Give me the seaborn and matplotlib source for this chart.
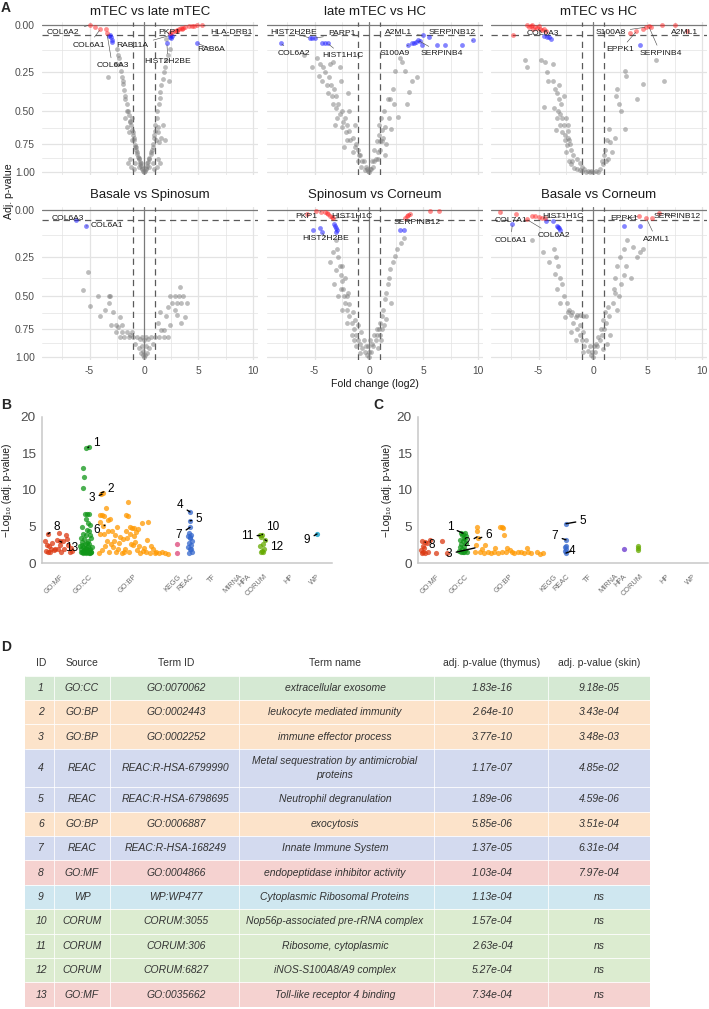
import numpy as np
import pandas as pd
import matplotlib
matplotlib.use("Agg")
import matplotlib.pyplot as plt
from matplotlib.patches import Rectangle
import seaborn as sns

# ------------------------------------------------------------------
# A. volcano panels: (log2 fold change, adj. p-value)
# ------------------------------------------------------------------
titles = ["mTEC vs late mTEC", "late mTEC vs HC", "mTEC vs HC",
          "Basale vs Spinosum", "Spinosum vs Corneum", "Basale vs Corneum"]

grey_1 = [(-3.3, 0.28), (-2.5, 0.12), (-2.4, 0.15), (-2.3, 0.17), (-2.2, 0.2), (-2.1, 0.24),
          (-2.0, 0.28), (-1.95, 0.3), (-1.9, 0.32), (-1.8, 0.36), (-1.75, 0.4), (-1.7, 0.42),
          (-1.6, 0.45), (-1.55, 0.5), (-1.45, 0.5), (-1.4, 0.53), (-1.3, 0.57), (-1.25, 0.58),
          (-1.2, 0.6), (-1.1, 0.64), (-1.05, 0.66), (-1.0, 0.68), (-0.95, 0.7), (-0.9, 0.72),
          (-0.8, 0.76), (-0.75, 0.78), (-0.7, 0.8), (-0.6, 0.84), (-0.55, 0.86), (-0.5, 0.88),
          (-0.4, 0.91), (-0.35, 0.93), (-0.3, 0.94), (-0.2, 0.97), (-0.1, 0.99), (0.0, 1.0),
          (-1.5, 0.92), (-1.2, 0.95), (-0.9, 0.97), (-1.3, 0.88), (0.9, 0.97), (1.2, 0.95),
          (1.5, 0.92), (1.3, 0.88), (2.4, 0.12), (2.2, 0.15), (2.0, 0.18), (1.9, 0.22),
          (1.8, 0.25), (1.7, 0.29), (1.6, 0.33), (1.5, 0.37), (1.5, 0.41), (1.35, 0.45),
          (1.2, 0.5), (1.15, 0.55), (1.05, 0.6), (1.0, 0.65), (0.9, 0.7), (0.8, 0.75),
          (0.7, 0.8), (0.6, 0.84), (0.5, 0.88), (0.4, 0.91), (0.3, 0.94), (0.2, 0.97),
          (0.1, 0.99), (1.6, 0.7), (1.4, 0.74), (1.9, 0.72), (2.0, 0.07), (1.3, 0.62),
          (0.95, 0.68), (-0.15, 0.96), (0.15, 0.96), (-0.25, 0.92), (0.25, 0.92), (-0.45, 0.87),
          (0.45, 0.87), (-0.65, 0.82), (0.65, 0.82), (-0.85, 0.78), (0.85, 0.78), (-1.1, 0.72),
          (1.1, 0.72), (-1.4, 0.66), (1.3, 0.66), (-0.5, 0.95), (0.5, 0.95), (-0.8, 0.92),
          (0.8, 0.92), (-1.6, 0.62), (-1.7, 0.55), (1.7, 0.6), (2.3, 0.3), (-2.6, 0.2),
          (-1.1, 0.55)]
red_1 = [(-5.0, 0.0), (-4.5, 0.01), (-4.0, 0.02), (-3.5, 0.02), (-3.4, 0.04), (2.4, 0.04),
         (2.6, 0.035), (2.8, 0.03), (3.0, 0.025), (3.2, 0.02), (3.4, 0.015), (3.6, 0.012),
         (3.8, 0.01), (4.1, 0.007), (4.4, 0.005), (4.6, 0.003), (4.9, 0.0), (5.3, 0.0),
         (3.5, 0.02), (3.0, 0.03)]
blue_1 = [(-3.1, 0.05), (-3.0, 0.06), (-2.9, 0.073), (-2.9, 0.085), (-3.2, 0.055), (2.4, 0.05),
          (2.35, 0.06), (2.5, 0.065), (2.1, 0.09), (4.9, 0.09), (2.6, 0.055)]
genes_1 = [("COL6A2", -5.0, 0.0), ("COL6A1", -4.0, 0.02), ("COL6A3", -3.4, 0.04),
           ("RAB11A", 2.4, 0.05), ("PKP1", 2.6, 0.035), ("HLA-DRB1", 5.3, 0.0),
           ("RAB6A", 4.9, 0.09), ("HIST2H2BE", 2.1, 0.09)]

grey_2 = [(-6.0, 0.15), (-5.2, 0.22), (-4.8, 0.17), (-4.5, 0.2), (-4.2, 0.22), (-4.0, 0.25),
          (-4.3, 0.3), (-3.7, 0.28), (-3.5, 0.33), (-3.8, 0.38), (-3.2, 0.35), (-3.0, 0.4),
          (-3.3, 0.45), (-2.8, 0.45), (-2.5, 0.5), (-2.9, 0.55), (-2.2, 0.55), (-2.0, 0.6),
          (-2.5, 0.62), (-1.8, 0.65), (-1.5, 0.7), (-2.0, 0.72), (-1.2, 0.75), (-1.0, 0.8),
          (-1.5, 0.82), (-0.8, 0.85), (-0.5, 0.9), (-1.0, 0.9), (-0.3, 0.95), (-0.7, 0.95),
          (-0.1, 0.99), (-0.4, 0.98), (-3.6, 0.2), (-4.6, 0.27), (-2.6, 0.3), (-3.1, 0.6),
          (-1.8, 0.5), (-2.3, 0.78), (-1.3, 0.6), (-3.3, 0.19), (-2.7, 0.22), (-1.9, 0.38),
          (2.8, 0.17), (2.4, 0.24), (3.3, 0.24), (3.9, 0.3), (3.7, 0.37), (1.7, 0.42),
          (1.9, 0.42), (1.4, 0.5), (2.7, 0.54), (1.2, 0.64), (2.0, 0.63), (0.7, 0.73),
          (1.0, 0.73), (1.2, 0.73), (0.5, 0.8), (0.8, 0.82), (0.3, 0.9), (0.6, 0.88),
          (0.1, 0.97), (0.4, 0.95), (1.5, 0.85), (2.2, 0.35), (3.0, 0.19), (1.1, 0.55),
          (4.4, 0.28), (3.5, 0.45), (0.9, 0.6), (1.6, 0.75), (0.0, 1.0), (-0.2, 0.97),
          (0.2, 0.97), (-0.6, 0.9), (0.5, 0.9), (-0.9, 0.85), (0.8, 0.88), (-1.3, 0.78),
          (1.0, 0.8), (-1.7, 0.72), (1.3, 0.7), (-2.1, 0.66), (1.5, 0.62), (-2.4, 0.58),
          (-2.7, 0.52), (-3.0, 0.48), (-3.4, 0.4), (-3.9, 0.33), (0.9, 0.68), (1.8, 0.55),
          (2.3, 0.45)]
red_2 = []
blue_2 = [(-8.1, 0.09), (-5.4, 0.064), (-5.2, 0.064), (-5.0, 0.064), (-4.3, 0.09), (-4.0, 0.09),
          (-3.8, 0.09), (3.6, 0.1), (3.9, 0.09), (4.1, 0.09), (4.3, 0.085), (4.5, 0.075),
          (4.7, 0.08), (4.9, 0.1), (5.0, 0.05), (5.5, 0.06), (6.2, 0.1), (7.0, 0.1),
          (8.5, 0.1), (9.5, 0.075)]
genes_2 = [("HIST2H2BE", -5.4, 0.064), ("PARP1", -5.0, 0.064), ("COL6A2", -8.1, 0.09),
           ("HIST1H1C", -3.8, 0.09), ("A2ML1", 5.0, 0.05), ("SERPINB12", 9.5, 0.075),
           ("S100A9", 3.6, 0.1), ("SERPINB4", 4.5, 0.075)]

grey_3 = [(-6.2, 0.18), (-6.1, 0.22), (-4.8, 0.18), (-4.4, 0.19), (-3.7, 0.2), (-4.2, 0.25),
          (-4.1, 0.3), (-3.7, 0.3), (-3.5, 0.35), (-3.3, 0.38), (-3.1, 0.42), (-2.9, 0.45),
          (-4.5, 0.47), (-3.6, 0.48), (-3.2, 0.5), (-3.0, 0.52), (-2.8, 0.55), (-2.7, 0.6),
          (-3.4, 0.64), (-2.3, 0.6), (-2.3, 0.65), (-2.3, 0.7), (-2.1, 0.75), (-2.0, 0.8),
          (-1.8, 0.85), (-1.5, 0.88), (-1.2, 0.92), (-1.0, 0.95), (-0.8, 0.97), (-0.5, 0.99),
          (-0.3, 1.0), (0.0, 1.0), (-1.5, 0.97), (-2.0, 0.93), (-1.0, 0.99), (0.3, 0.99),
          (0.6, 0.97), (0.9, 0.93), (-2.6, 0.68), (-2.2, 0.72), (-2.5, 0.82), (-1.9, 0.9),
          (-3.1, 0.33), (-2.7, 0.4), (5.8, 0.18), (2.9, 0.24), (3.0, 0.27), (4.6, 0.32),
          (2.1, 0.4), (2.4, 0.45), (2.6, 0.5), (4.0, 0.42), (1.5, 0.63), (2.9, 0.63),
          (1.3, 0.72), (1.6, 0.74), (1.1, 0.8), (1.0, 0.85), (0.8, 0.9), (1.4, 0.88),
          (2.2, 0.35), (6.5, 0.3), (-0.6, 1.0), (-1.2, 0.98), (-1.7, 0.96), (-2.2, 0.9),
          (0.5, 1.0), (-0.2, 0.99), (-2.4, 0.76), (-2.6, 0.72), (-2.8, 0.66), (-3.0, 0.6),
          (-2.5, 0.55), (-3.3, 0.55), (1.2, 0.9), (1.7, 0.82), (2.0, 0.7)]
red_3 = [(-6.1, 0.0), (-5.9, 0.01), (-5.7, 0.005), (-5.5, 0.02), (-5.3, 0.01), (-5.1, 0.015),
         (-4.9, 0.02), (-4.7, 0.025), (-4.5, 0.02), (-4.3, 0.03), (-5.6, 0.0), (-5.0, 0.005),
         (-7.3, 0.05), (3.4, 0.04), (3.9, 0.03), (4.6, 0.02), (4.9, 0.01), (5.1, 0.005),
         (5.3, 0.008), (6.3, 0.0), (7.5, 0.0), (8.6, 0.03)]
blue_3 = [(-4.5, 0.055), (-4.2, 0.06), (-3.9, 0.07), (-4.0, 0.058), (4.3, 0.1)]
genes_3 = [("COL6A3", -5.1, 0.015), ("S100A8", 4.9, 0.01), ("EPPK1", 4.0, 0.03),
           ("SERPINB4", 5.1, 0.005), ("A2ML1", 8.6, 0.03)]

grey_4 = [(-5.1, 0.34), (-5.6, 0.46), (-4.2, 0.5), (-3.2, 0.5), (-3.1, 0.5), (-3.2, 0.55),
          (-5.0, 0.57), (-4.0, 0.65), (-3.0, 0.72), (-2.6, 0.72), (-2.0, 0.72), (-2.6, 0.78),
          (-2.0, 0.78), (-1.1, 0.78), (-1.3, 0.8), (-2.2, 0.82), (-1.8, 0.82), (-1.4, 0.82),
          (-1.0, 0.82), (-0.6, 0.82), (-0.2, 0.82), (0.2, 0.82), (0.6, 0.82), (1.0, 0.82),
          (1.4, 0.82), (1.8, 0.82), (2.2, 0.82), (-0.8, 0.88), (-0.5, 0.92), (-0.3, 0.96),
          (0.0, 1.0), (0.3, 0.96), (0.5, 0.92), (0.8, 0.88), (-3.6, 0.6), (-2.8, 0.62),
          (-2.2, 0.66), (3.3, 0.44), (2.4, 0.5), (2.8, 0.5), (3.2, 0.5), (3.6, 0.5),
          (2.6, 0.55), (3.0, 0.55), (3.4, 0.55), (3.9, 0.55), (2.2, 0.58), (1.5, 0.62),
          (2.0, 0.65), (3.0, 0.64), (3.8, 0.66), (1.3, 0.7), (2.4, 0.72), (1.8, 0.76),
          (3.4, 0.7), (2.8, 0.6), (-0.1, 0.98), (0.1, 0.98), (-0.4, 0.84), (0.4, 0.84),
          (-0.2, 0.9), (0.2, 0.9), (-0.1, 0.94), (0.0, 0.85), (-1.6, 0.78), (1.6, 0.76),
          (-2.4, 0.74)]
red_4 = []
blue_4 = [(-6.2, 0.05), (-5.3, 0.078)]
genes_4 = [("COL6A3", -6.2, 0.05), ("COL6A1", -5.3, 0.078)]

grey_5 = [(-3.0, 0.15), (-2.9, 0.2), (-3.3, 0.22), (-2.8, 0.25), (-2.7, 0.3), (-3.0, 0.33),
          (-2.6, 0.36), (-2.5, 0.4), (-3.2, 0.42), (-2.4, 0.45), (-2.3, 0.5), (-2.8, 0.5),
          (-2.2, 0.55), (-2.0, 0.6), (-2.5, 0.6), (-1.8, 0.65), (-1.6, 0.7), (-2.0, 0.7),
          (-1.4, 0.75), (-1.2, 0.8), (-1.6, 0.8), (-1.0, 0.85), (-0.8, 0.88), (-1.2, 0.9),
          (-0.6, 0.92), (-0.4, 0.95), (-0.2, 0.98), (0.0, 1.0), (-0.8, 0.96), (-3.6, 0.28),
          (-2.2, 0.38), (-1.9, 0.48), (3.2, 0.14), (2.9, 0.17), (2.6, 0.2), (2.4, 0.24),
          (2.2, 0.28), (1.9, 0.32), (1.8, 0.38), (1.7, 0.42), (1.6, 0.48), (1.5, 0.52),
          (1.3, 0.6), (1.2, 0.65), (1.0, 0.7), (0.9, 0.75), (0.7, 0.8), (0.6, 0.85),
          (0.4, 0.9), (0.2, 0.95), (1.4, 0.72), (1.6, 0.67), (0.8, 0.92), (1.1, 0.85),
          (2.0, 0.55), (-0.3, 0.9), (0.3, 0.88), (-0.5, 0.85), (0.5, 0.8), (-0.7, 0.78),
          (0.7, 0.75), (-1.0, 0.72), (1.0, 0.8), (-1.3, 0.68), (-1.5, 0.62), (-1.8, 0.56),
          (-2.0, 0.5), (-2.6, 0.45), (-2.5, 0.3), (0.0, 0.95), (-0.1, 0.9), (0.1, 0.85),
          (-1.4, 0.85), (1.2, 0.75)]
red_5 = [(-5.7, 0.02), (-4.9, 0.005), (-4.0, 0.01), (-3.8, 0.02), (-3.6, 0.03), (-3.4, 0.035),
         (-3.3, 0.04), (-4.4, 0.008), (-3.9, 0.015), (3.3, 0.04), (3.5, 0.03), (3.6, 0.025),
         (3.8, 0.02), (5.6, 0.005), (6.4, 0.005)]
blue_5 = [(-5.1, 0.1), (-4.3, 0.11), (-4.5, 0.09), (-3.2, 0.07), (-3.1, 0.08), (-3.0, 0.09),
          (-2.9, 0.1), (-3.0, 0.11), (2.8, 0.1), (3.2, 0.1)]
genes_5 = [("PKP1", -4.4, 0.008), ("HIST1H1C", -3.3, 0.04), ("HIST2H2BE", -4.3, 0.11),
           ("SERPINB12", 3.8, 0.02)]

grey_6 = [(-5.6, 0.15), (-4.6, 0.22), (-3.6, 0.2), (-3.4, 0.25), (-3.2, 0.3), (-3.5, 0.35),
          (-3.0, 0.38), (-2.8, 0.42), (-3.3, 0.45), (-2.7, 0.5), (-3.0, 0.55), (-2.4, 0.55),
          (-2.2, 0.6), (-1.9, 0.62), (-1.5, 0.64), (-1.2, 0.64), (-0.9, 0.65), (-1.8, 0.7),
          (-1.5, 0.75), (-1.2, 0.8), (-1.0, 0.85), (-0.8, 0.9), (-0.5, 0.94), (-0.2, 0.98),
          (0.0, 1.0), (-1.6, 0.85), (-0.9, 0.95), (-4.0, 0.28), (-2.6, 0.66), (-2.0, 0.78),
          (4.6, 0.2), (4.3, 0.22), (3.7, 0.19), (3.1, 0.15), (2.8, 0.2), (2.5, 0.25),
          (2.2, 0.3), (3.0, 0.3), (2.8, 0.36), (2.0, 0.38), (2.6, 0.42), (1.9, 0.45),
          (2.4, 0.5), (1.8, 0.55), (2.2, 0.6), (1.5, 0.65), (1.2, 0.7), (1.0, 0.75),
          (0.8, 0.8), (0.6, 0.85), (0.4, 0.9), (0.2, 0.95), (1.6, 0.8), (1.3, 0.88),
          (0.9, 0.93), (3.5, 0.38), (4.0, 0.25), (-0.3, 0.9), (0.3, 0.88), (-0.6, 0.85),
          (0.5, 0.82), (-0.9, 0.78), (0.7, 0.75), (-1.2, 0.72), (-1.6, 0.66), (-2.0, 0.64),
          (-2.3, 0.62), (-0.6, 0.65), (0.9, 0.68), (1.1, 0.62), (1.4, 0.58), (2.0, 0.48),
          (-0.1, 0.95), (0.1, 0.9)]
red_6 = [(-8.5, 0.01), (-7.1, 0.02), (-6.1, 0.045), (-5.3, 0.03), (-5.0, 0.035), (-4.7, 0.04),
         (-5.6, 0.03), (-4.4, 0.04), (4.2, 0.03), (4.9, 0.04), (5.4, 0.04), (6.1, 0.015)]
blue_6 = [(-7.4, 0.07), (-4.3, 0.052), (-3.7, 0.055), (-3.3, 0.08), (-3.1, 0.09), (-3.0, 0.1),
          (-3.2, 0.085), (2.8, 0.08), (4.3, 0.08)]
genes_6 = [("COL7A1", -8.5, 0.01), ("COL6A1", -7.4, 0.07), ("COL6A2", -6.1, 0.045),
           ("HIST1H1C", -4.7, 0.04), ("EPPK1", 4.2, 0.03), ("SERPINB12", 6.1, 0.015),
           ("A2ML1", 4.9, 0.04)]

# where the gene names sit (layout)
label_pos = [
    [(-7.4, 0.038), (-5.1, 0.099), (-2.9, 0.213), (-1.05, 0.104), (2.3, 0.038), (8.0, 0.038),
     (6.2, 0.12), (2.2, 0.19)],
    [(-6.9, 0.038), (-2.5, 0.043), (-6.9, 0.143), (-2.4, 0.157), (2.75, 0.038), (7.6, 0.038),
     (2.4, 0.143), (6.7, 0.146)],
    [(-4.6, 0.043), (1.6, 0.035), (2.5, 0.125), (6.2, 0.143), (8.4, 0.035)],
    [(-7.0, 0.043), (-3.4, 0.078)],
    [(-5.8, 0.032), (-1.55, 0.032), (-4.0, 0.143), (4.45, 0.062)],
    [(-7.55, 0.052), (-7.55, 0.152), (-3.6, 0.129), (-2.75, 0.032), (2.85, 0.043),
     (7.7, 0.032), (5.8, 0.148)],
]

# ------------------------------------------------------------------
# B / C. g:Profiler manhattan plots (thymus / skin)
# ------------------------------------------------------------------
sources = ["GO:MF", "GO:CC", "GO:BP", "KEGG", "REAC", "TF", "MIRNA", "HPA", "CORUM", "HP", "WP"]
source_pos = [18, 47, 92, 136, 148, 171, 197, 205, 222, 248, 275]
source_colors = {"GO:MF": "#dc3912", "GO:CC": "#109618", "GO:BP": "#ff9900", "KEGG": "#dd4477",
                 "REAC": "#3366cc", "TF": "#5574a6", "MIRNA": "#22aa99", "HPA": "#6633cc",
                 "CORUM": "#66aa00", "HP": "#990099", "WP": "#0099c6"}

b_mf_x = [3, 5, 4, 8, 7, 10, 12, 13, 15, 16, 18, 19, 21, 22, 24, 25, 26, 28, 29, 30, 6, 17, 9, 18, 6]
b_mf_y = [3.0, 2.5, 1.7, 1.6, 2.3, 2.8, 1.8, 2.0, 3.2, 1.9, 2.5, 1.6, 3.0, 2.0, 3.9, 3.3, 2.5,
          1.6, 2.1, 1.7, 1.6, 4.1, 2.0, 3.0, 4.0]
b_cc_x = [44, 47, 41, 42, 41, 43, 45, 47, 44, 46, 48, 40, 45, 47, 41, 44, 48, 39, 42, 46,
          49, 40, 43, 45, 47, 50, 38, 41, 44, 46, 48, 39, 42, 44, 47, 49, 40, 43, 45, 48,
          41, 44, 46, 39, 42, 47, 49, 43, 45, 40]
b_cc_y = [15.7, 15.8, 13.0, 11.7, 10.2, 6.7, 6.7, 6.7, 6.0, 5.5, 5.2, 4.9, 4.6, 4.4, 4.0, 3.8,
          3.9, 3.5, 3.3, 3.1, 3.4, 2.9, 2.7, 2.8, 2.6, 2.2, 2.4, 2.2, 2.1, 2.3, 2.0, 1.9, 1.8,
          1.7, 1.8, 1.6, 1.6, 1.5, 1.5, 1.4, 1.4, 1.4, 1.5, 1.5, 1.6, 1.4, 1.5, 2.0, 1.9, 2.5]
b_bp_x = [59, 61, 86, 64, 58, 60, 62, 84, 86, 68, 66, 100, 58, 61, 75, 88, 90, 92, 96, 66,
          70, 84, 94, 73, 58, 62, 78, 88, 92, 105, 106, 81, 57, 60, 63, 67, 71, 74, 77, 80,
          83, 87, 91, 95, 98, 102, 104, 108, 111, 114, 117, 120, 123, 126, 65, 69, 76, 82, 89, 97,
          101, 109, 113, 85, 93, 72]
b_bp_y = [9.5, 9.6, 8.4, 7.5, 6.6, 6.6, 6.5, 6.6, 6.5, 6.0, 5.9, 5.5, 5.6, 5.1, 5.0, 4.9, 4.8,
          4.8, 4.7, 4.4, 4.4, 4.4, 4.3, 3.9, 4.0, 4.0, 3.6, 4.0, 3.7, 3.2, 5.6, 3.3, 1.4, 1.8,
          2.4, 1.5, 2.2, 1.6, 2.8, 1.4, 2.0, 1.5, 2.5, 1.8, 1.4, 2.1, 1.6, 1.4, 1.9, 1.5, 1.4,
          1.6, 1.4, 1.3, 3.0, 2.6, 1.9, 1.5, 2.7, 2.3, 1.7, 2.4, 1.4, 3.4, 2.9, 3.1]
b_kegg_x = [135, 135]
b_kegg_y = [2.6, 1.4]
b_reac_x = [148, 148, 148, 147, 149, 146, 148, 150, 147, 149, 146, 148, 150, 147, 149, 148]
b_reac_y = [7.0, 5.8, 4.9, 4.2, 3.9, 3.7, 3.4, 3.1, 2.8, 2.5, 2.2, 1.9, 1.6, 1.4, 2.0, 3.6]
b_corum_x = [218, 220, 223, 219, 221, 218, 222, 220, 219, 221]
b_corum_y = [3.8, 3.9, 3.2, 3.6, 2.6, 2.3, 1.9, 1.7, 1.5, 1.6]
b_wp_x = [275]
b_wp_y = [4.0]

c_mf_x = [4, 5, 5, 7, 9, 10, 4, 24, 12, 18, 7, 3, 6, 29]
c_mf_y = [3.0, 2.3, 1.6, 1.4, 2.8, 1.6, 1.4, 3.0, 3.2, 1.4, 2.9, 1.8, 2.1, 1.4]
c_cc_x = [43, 45, 47, 44, 46, 48, 42, 45, 47, 43, 46, 48, 44, 41, 45, 47, 43, 49, 42, 46]
c_cc_y = [4.2, 4.0, 4.1, 3.8, 3.5, 3.7, 3.2, 3.0, 3.3, 2.7, 2.4, 2.8, 2.0, 1.7, 1.5, 1.8, 1.5,
          1.6, 2.2, 1.6]
c_bp_x = [59, 59, 60, 58, 67, 82, 84, 85, 86, 77, 89, 109, 62, 66, 70, 73, 76, 80, 84, 88,
          92, 96, 100, 103, 106, 110, 113, 119, 122, 125, 64, 94, 57]
c_bp_y = [4.9, 4.4, 3.5, 2.5, 2.5, 4.9, 4.9, 4.8, 3.9, 2.1, 2.1, 2.1, 1.5, 1.4, 1.6, 1.4, 1.5,
          1.4, 1.6, 1.5, 1.8, 1.4, 1.6, 1.5, 1.4, 1.6, 1.4, 1.5, 1.3, 1.4, 1.9, 1.5, 1.6]
c_reac_x = [148, 148, 148, 147, 148, 147, 148]
c_reac_y = [5.4, 3.2, 2.4, 2.2, 2.0, 1.7, 1.4]
c_hpa_x = [206]
c_hpa_y = [1.9]
c_corum_x = [220, 220, 220]
c_corum_y = [2.4, 2.1, 1.8]

# highlighted terms: id, term point (x, y), label (x, y)
b_notes = [(1, 46, 15.8, 54, 16.4), (2, 59, 9.6, 69, 10.1), (3, 60, 9.4, 50, 8.9),
           (4, 148, 7.0, 138, 7.9), (5, 148, 5.8, 157, 6.0), (6, 63, 5.2, 55, 4.5),
           (7, 148, 4.9, 137, 3.9), (8, 6, 4.0, 15, 4.9), (9, 275, 4.0, 265, 3.2),
           (10, 220, 3.9, 231, 4.9), (11, 218, 3.8, 205, 3.7), (12, 223, 3.2, 235, 2.2),
           (13, 18, 3.0, 30, 2.1)]
c_notes = [(1, 45, 4.1, 32, 4.9), (2, 59, 3.6, 49, 2.8), (3, 57, 2.1, 31, 1.3),
           (4, 148, 1.4, 154, 1.7), (5, 148, 5.4, 165, 5.8), (6, 61, 3.4, 71, 3.9),
           (7, 148, 3.2, 137, 3.7), (8, 7, 2.9, 14, 2.5)]

# ------------------------------------------------------------------
# D. table
# ------------------------------------------------------------------
col_headers = ["ID", "Source", "Term ID", "Term name", "adj. p-value (thymus)", "adj. p-value (skin)"]
term_ids = ["1", "2", "3", "4", "5", "6", "7", "8", "9", "10", "11", "12", "13"]
term_sources = ["GO:CC", "GO:BP", "GO:BP", "REAC", "REAC", "GO:BP", "REAC", "GO:MF", "WP",
                "CORUM", "CORUM", "CORUM", "GO:MF"]
term_codes = ["GO:0070062", "GO:0002443", "GO:0002252", "REAC:R-HSA-6799990",
              "REAC:R-HSA-6798695", "GO:0006887", "REAC:R-HSA-168249", "GO:0004866",
              "WP:WP477", "CORUM:3055", "CORUM:306", "CORUM:6827", "GO:0035662"]
term_names = ["extracellular exosome", "leukocyte mediated immunity", "immune effector process",
              "Metal sequestration by antimicrobial\nproteins", "Neutrophil degranulation",
              "exocytosis", "Innate Immune System", "endopeptidase inhibitor activity",
              "Cytoplasmic Ribosomal Proteins", "Nop56p-associated pre-rRNA complex",
              "Ribosome, cytoplasmic", "iNOS-S100A8/A9 complex", "Toll-like receptor 4 binding"]
p_thymus = ["1.83e-16", "2.64e-10", "3.77e-10", "1.17e-07", "1.89e-06", "5.85e-06", "1.37e-05",
            "1.03e-04", "1.13e-04", "1.57e-04", "2.63e-04", "5.27e-04", "7.34e-04"]
p_skin = ["9.18e-05", "3.43e-04", "3.48e-03", "4.85e-02", "4.59e-06", "3.51e-04", "6.31e-04",
          "7.97e-04", "ns", "ns", "ns", "ns", "ns"]
row_colors = {"GO:CC": "#d5e9d3", "GO:BP": "#fce3ca", "REAC": "#d3daef", "GO:MF": "#f5d2d0",
              "WP": "#cfe7f0", "CORUM": "#dcecd0"}

# ------------------------------------------------------------------
sns.set_style("white")
plt.rcParams["font.family"] = ["Liberation Sans", "DejaVu Sans"]

W, H = 709, 1009
fig = plt.figure(figsize=(W / 100, H / 100), dpi=100)
fig.patch.set_facecolor("white")


def px_axes(left, top, right, bottom):
    return fig.add_axes([left / W, 1 - bottom / H, (right - left) / W, (bottom - top) / H])


def fwd(p):
    return np.log2(1 + np.asarray(p, dtype=float))


def inv(t):
    return np.power(2.0, np.asarray(t, dtype=float)) - 1


GRID = "#e3e3e3"
panels = [(grey_1, red_1, blue_1, genes_1), (grey_2, red_2, blue_2, genes_2),
          (grey_3, red_3, blue_3, genes_3), (grey_4, red_4, blue_4, genes_4),
          (grey_5, red_5, blue_5, genes_5), (grey_6, red_6, blue_6, genes_6)]
col_x = [(42, 258), (267, 483), (491, 707)]
row_y = [(22, 175), (207, 360)]

for k, (grey, red, blue, genes) in enumerate(panels):
    r, c = divmod(k, 3)
    ax = px_axes(col_x[c][0], row_y[r][0], col_x[c][1], row_y[r][1])
    ax.set_yscale("function", functions=(fwd, inv))
    for v in [-7.5, -2.5, 2.5, 7.5]:
        ax.axvline(v, color=GRID, lw=0.5, zorder=0)
    for v in [-5, 5, 10]:
        ax.axvline(v, color=GRID, lw=0.9, zorder=0)
    for v in [0.125, 0.375, 0.625, 0.875]:
        ax.axhline(v, color=GRID, lw=0.5, zorder=0)
    for v in [0.25, 0.5, 0.75, 1.0]:
        ax.axhline(v, color=GRID, lw=0.9, zorder=0)
    ax.axhline(0, color="#7a7a7a", lw=0.9, zorder=1)
    ax.axvline(0, color="#7a7a7a", lw=0.9, zorder=1)
    for v in [-1, 1]:
        ax.axvline(v, color="#5a5a5a", lw=0.9, ls=(0, (5, 3.5)), zorder=2)
    ax.axhline(0.05, color="#5a5a5a", lw=0.9, ls=(0, (5, 3.5)), zorder=2)

    for pts, colour, a in [(grey, "#7a7a7a", 0.5), (blue, "#2020ff", 0.55), (red, "#ff2020", 0.5)]:
        if not pts:
            continue
        d = pd.DataFrame(pts, columns=["fc", "p"])
        sns.scatterplot(data=d, x="fc", y="p", color=colour, alpha=a, s=12,
                        linewidth=0, ax=ax, zorder=3)

    for (name, gx, gy), (lx, ly) in zip(genes, label_pos[k]):
        ax.annotate(name, xy=(gx, gy), xytext=(lx, ly), fontsize=6.1, color="#1a1a1a",
                    ha="center", va="center", zorder=5,
                    arrowprops=dict(arrowstyle="-", color="#444444", lw=0.4,
                                    shrinkA=1, shrinkB=1))

    ax.set_xlim(-9.36, 10.46)
    ax.set_ylim(1.0284, -0.014)
    ax.set_xlabel("")
    ax.set_ylabel("")
    for s in ax.spines.values():
        s.set_visible(False)
    ax.set_xticks([-5, 0, 5, 10])
    ax.set_yticks([0, 0.25, 0.5, 0.75, 1.0])
    ax.set_yticks([], minor=True)
    ax.tick_params(length=0, labelsize=7.4, labelcolor="#4d4d4d")
    ax.tick_params(axis="y", pad=5)
    ax.tick_params(axis="x", pad=4)
    if r == 1:
        ax.set_xticklabels(["-5", "0", "5", "10"])
    else:
        ax.set_xticklabels([])
    if c == 0:
        ax.set_yticklabels(["0.00", "0.25", "0.50", "0.75", "1.00"])
    else:
        ax.set_yticklabels([])
    cx = (col_x[c][0] + col_x[c][1]) / 2
    fig.text(cx / W, 1 - (12 if r == 0 else 195) / H, titles[k], fontsize=9.5,
             color="#1a1a1a", ha="center", va="center")

fig.text(374.5 / W, 1 - 384 / H, "Fold change (log2)", fontsize=7.6, color="#1a1a1a",
         ha="center", va="center")
fig.text(9 / W, 1 - 191 / H, "Adj. p-value", fontsize=7.6, color="#1a1a1a",
         ha="center", va="center", rotation=90)


def manhattan(ax, groups, notes):
    for src, xs, ys in groups:
        sns.scatterplot(x=xs, y=ys, color=source_colors[src], alpha=0.75, s=14,
                        linewidth=0, ax=ax, zorder=3)
    for num, px_, py_, lx, ly in notes:
        ax.annotate(str(num), xy=(px_, py_), xytext=(lx, ly), fontsize=8.5, color="black",
                    ha="center", va="center", zorder=5,
                    arrowprops=dict(arrowstyle="-", color="black", lw=1.0,
                                    shrinkA=0.5, shrinkB=0))
    ax.set_xlim(0, 290)
    ax.set_ylim(-0.6, 21)
    ax.set_xlabel("")
    ax.set_ylabel("")
    ax.spines["top"].set_visible(False)
    ax.spines["right"].set_visible(False)
    ax.spines["left"].set_bounds(0, 20)
    ax.spines["bottom"].set_position(("data", 0))
    for s in ["left", "bottom"]:
        ax.spines[s].set_color("#c8c8c8")
        ax.spines[s].set_linewidth(1.1)
    ax.set_yticks([0, 5, 10, 15, 20])
    ax.tick_params(axis="y", length=3, width=0.8, color="#c8c8c8", pad=1.5,
                   labelsize=9.7, labelcolor="#4d4d4d")
    ax.set_xticks(source_pos)
    ax.set_xticklabels(sources, rotation=45, ha="right", va="top", rotation_mode="anchor",
                       fontsize=5.3, color="#6b6b6b")
    ax.tick_params(axis="x", length=0, pad=7)
    ax.set_facecolor("none")


axb = px_axes(42, 409.3, 332, 567.7)
manhattan(axb, [("GO:MF", b_mf_x, b_mf_y), ("GO:CC", b_cc_x, b_cc_y), ("GO:BP", b_bp_x, b_bp_y),
                ("KEGG", b_kegg_x, b_kegg_y), ("REAC", b_reac_x, b_reac_y),
                ("CORUM", b_corum_x, b_corum_y), ("WP", b_wp_x, b_wp_y)], b_notes)
axc = px_axes(418, 409.3, 708, 567.7)
manhattan(axc, [("GO:MF", c_mf_x, c_mf_y), ("GO:CC", c_cc_x, c_cc_y), ("GO:BP", c_bp_x, c_bp_y),
                ("REAC", c_reac_x, c_reac_y), ("HPA", c_hpa_x, c_hpa_y),
                ("CORUM", c_corum_x, c_corum_y)], c_notes)
for x0 in [7, 387]:
    fig.text(x0 / W, 1 - 490 / H, "\u2212Log\u2081\u2080 (adj. p-value)", fontsize=7.4,
             color="#1a1a1a", ha="center", va="center", rotation=90)

# overlay in pixel coordinates for panel letters and the table
top = fig.add_axes([0, 0, 1, 1])
top.set_xlim(0, W)
top.set_ylim(H, 0)
top.axis("off")
top.patch.set_visible(False)

for letter, lx, ly in [("A", 6, 8), ("B", 6, 405), ("C", 378, 405), ("D", 6, 647)]:
    top.text(lx, ly, letter, fontsize=10, fontweight="bold", ha="center", va="center")

col_centres = [41, 82, 176, 335, 492, 599]
col_edges = [54, 110, 239, 434, 548]
for cx, head in zip(col_centres, col_headers):
    top.text(cx, 663, head, fontsize=7.5, color="#333333", ha="center", va="center")

y = 675.5
for i in range(len(term_ids)):
    h = 38.5 if "\n" in term_names[i] else 24.4
    top.add_patch(Rectangle((25, y), 625, h, facecolor=row_colors[term_sources[i]],
                            edgecolor="none", zorder=1))
    yc = y + h / 2
    vals = [term_ids[i], term_sources[i], term_codes[i], term_names[i], p_thymus[i], p_skin[i]]
    for cx, v in zip(col_centres, vals):
        top.text(cx, yc, v, fontsize=7.5, style="italic", color="#333333",
                 ha="center", va="center", linespacing=1.6, zorder=3)
    top.plot([25, 650], [y, y], color="white", lw=0.6, zorder=2)
    y += h
for xe in col_edges:
    top.plot([xe, xe], [675.5, y], color="white", lw=0.7, alpha=0.8, zorder=2)

fig.savefig("out.png", dpi=100, facecolor="white")
